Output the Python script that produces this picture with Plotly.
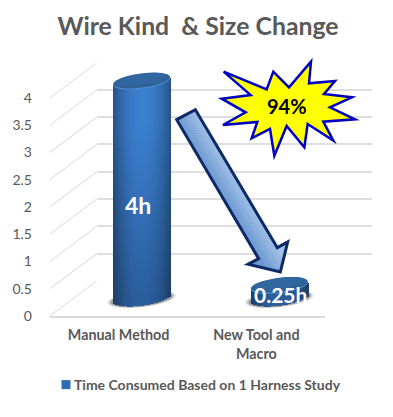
import math
import plotly.graph_objects as go

# ---- data ----
categories = ["Manual Method", "New Tool and<br>Macro"]
values = [4, 0.25]
data_labels = ["4h", "0.25h"]
series_name = "Time Consumed Based on 1 Harness Study"
y_ticks = [0, 0.5, 1, 1.5, 2, 2.5, 3, 3.5, 4]
y_tick_text = ["0", "0.5", "1", "1.5", "2", "2.5", "3", "3.5", "4"]
title_text = "Wire Kind\u00a0 & Size Change"
callout_text = "94%"
star_px = [(26,50),(155,103),(175,50),(222,97),(288,20),(282,85),(360,78),(327,117),(411,127),
           (345,157),(420,193),(325,200),(355,257),(278,207),(268,277),(215,213),(178,302),
           (165,222),(110,250),(127,201),(24,210),(92,172),(20,131),(107,120)]
arrow_px = [(20,44),(76,14),(322,428),(353,411),(331,501),(234,478),(266,461)]

W, H = 393, 417
GREY = "#595959"
FONT = "Lato"
UNIT_Y = 54.5      # px per value unit
UNIT_X = 137.5     # px per category
BAR_HALF = 28.5    # px
ELL_B = 7.5        # px
ELL_SHEAR = 3.5    # px
PAD = 0.5          # extra value range on the bar plane so nothing clips


def fx(x): return x / W
def fy(y): return 1 - y / H
def lerp(a, b, t): return a + (b - a) * t
def mix(c0, c1, t): return tuple(lerp(a, b, t) for a, b in zip(c0, c1))
def rgb(c): return "rgb(%d,%d,%d)" % tuple(round(v) for v in c)
def closed_path(pts): return "M" + "L".join(f"{x:.5f},{y:.5f}" for x, y in pts) + "Z"


# the three depth planes: back wall, front floor, bar plane
back = dict(x0=96.5, x1=372, y0=281, y1=62.5)
front = dict(x0=49.75, x1=325.25, y0=316, y1=98)
mid = dict(x0=72.75, x1=348.25, y0=298.5, y1=80.5)

fig = go.Figure()

# anchor the back-wall and front axes with the categories
fig.add_trace(go.Scatter(x=categories, y=values, xaxis="x", yaxis="y", mode="none",
                         showlegend=False, hoverinfo="skip"))
fig.add_trace(go.Scatter(x=categories, y=values, xaxis="x2", yaxis="y2", mode="none",
                         showlegend=False, hoverinfo="skip"))

# core bars (carry the legend entry)
fig.add_trace(go.Bar(x=categories, y=values, width=0.3, name=series_name, xaxis="x3", yaxis="y3",
                     marker=dict(color="#2e6cb2", line=dict(width=0)), hoverinfo="skip"))

# cylinder surface: cells following each bar's value
CTOP_MID, CTOP_EDGE = (60, 127, 207), (38, 82, 134)
CBOT_MID, CBOT_EDGE = (42, 94, 158), (28, 60, 100)
NCOL = 30
for cat, val in zip(categories, values):
    xs, ys, bases, widths, offs, cols = [], [], [], [], [], []
    nrow = max(3, int(val * 14))
    for j in range(NCOL):
        u0 = -1 + 2 * j / NCOL
        u1 = -1 + 2 * (j + 1) / NCOL
        u = (u0 + u1) / 2
        lower = (ELL_SHEAR * u - ELL_B * math.sqrt(max(0, 1 - u * u))) / UNIT_Y
        t = 1 - abs(u) ** 2.2
        for k in range(nrow):
            b = lower + val * k / nrow
            h = val / nrow + 0.01
            vt = min(1, max(0, (b + h / 2) / 4 * 1.25))
            xs.append(cat)
            bases.append(b)
            ys.append(h)
            offs.append(u0 * BAR_HALF / UNIT_X)
            widths.append((u1 - u0) * BAR_HALF / UNIT_X + 0.003)
            cols.append(rgb(mix(mix(CBOT_EDGE, CTOP_EDGE, vt), mix(CBOT_MID, CTOP_MID, vt), t)))
    fig.add_trace(go.Bar(x=xs, y=ys, base=bases, width=widths, offset=offs, xaxis="x3", yaxis="y3",
                         marker=dict(color=cols, line=dict(width=0)), showlegend=False, hoverinfo="skip"))

shapes = []

# floor/wall diagonals
for v in y_ticks:
    shapes.append(dict(type="line", xref="paper", yref="paper", layer="below",
                       x0=fx(front["x0"]), y0=fy(front["y0"] - v * UNIT_Y),
                       x1=fx(back["x0"]), y1=fy(back["y0"] - v * UNIT_Y),
                       line=dict(color="#d9d9d9", width=1)))


def ellipse_path(i, level, scale_x=1.0, scale_y=1.0, dy=0.0, dx=0.0):
    pts = []
    for n in range(48):
        a = 2 * math.pi * n / 48
        px = (BAR_HALF * scale_x * math.cos(a) + dx) / UNIT_X
        py = (ELL_SHEAR * math.cos(a) + ELL_B * scale_y * math.sin(a) + dy) / UNIT_Y
        pts.append((i + px, level + py))
    return closed_path(pts)


for i, val in enumerate(values):
    # soft shadow under each cylinder
    for sx, sy, op in [(1.2, 1.1, 0.10), (1.14, 1.05, 0.18), (1.08, 1.0, 0.30)]:
        shapes.append(dict(type="path", xref="x3", yref="y3", layer="below",
                           path=ellipse_path(i, 0, sx, sy, dy=-0.5),
                           fillcolor=f"rgba(50,50,50,{op})", line=dict(width=0)))
    # top cap with a light rim
    shapes.append(dict(type="path", xref="x3", yref="y3", layer="above",
                       path=ellipse_path(i, val, 1.0, 1.0, dy=-0.8),
                       fillcolor="#4c8ad2", line=dict(width=0)))
    shapes.append(dict(type="path", xref="x3", yref="y3", layer="above",
                       path=ellipse_path(i, val, 0.99, 0.95),
                       fillcolor="#2f6299", line=dict(width=0)))
    shapes.append(dict(type="path", xref="x3", yref="y3", layer="above",
                       path=ellipse_path(i, val, 0.8, 0.72, dy=1),
                       fillcolor="rgba(50,108,168,0.55)", line=dict(width=0)))


# arrow: strips across the shaft for the gradient, then the outline
def to_page(p): return (170 + p[0] / 3, 105 + p[1] / 3)


arrow = [to_page(p) for p in arrow_px]
ax = (arrow[4][0] - (arrow[0][0] + arrow[1][0]) / 2, arrow[4][1] - (arrow[0][1] + arrow[1][1]) / 2)
al = math.hypot(*ax)
nrm = (-ax[1] / al, ax[0] / al)   # across the shaft


def across(p): return p[0] * nrm[0] + p[1] * nrm[1]


def clip(poly, s_min, s_max):
    def half(pts, keep, cross):
        out = []
        for a, b in zip(pts, pts[1:] + pts[:1]):
            ka, kb = keep(a), keep(b)
            if ka:
                out.append(a)
            if ka != kb:
                sa, sb = across(a), across(b)
                t = (cross - sa) / (sb - sa)
                out.append((a[0] + (b[0] - a[0]) * t, a[1] + (b[1] - a[1]) * t))
        return out
    res = half(poly, lambda p: across(p) >= s_min, s_min)
    return half(res, lambda p: across(p) <= s_max, s_max) if res else res


s_all = [across(p) for p in arrow]
s_lo, s_hi = min(s_all), max(s_all)
s_a, s_b = across(arrow[0]), across(arrow[1])
s_a, s_b = min(s_a, s_b), max(s_a, s_b)
NSTRIP = 26
for n in range(NSTRIP):
    a = lerp(s_lo, s_hi, n / NSTRIP)
    b = lerp(s_lo, s_hi, (n + 1) / NSTRIP) + 0.3
    piece = clip(arrow, a, b)
    if len(piece) < 3:
        continue
    t = min(1, max(0, ((a + b) / 2 - s_a) / (s_b - s_a)))
    color = rgb(mix((160, 193, 232), (106, 150, 208), t))
    shapes.append(dict(type="path", xref="paper", yref="paper", layer="above",
                       path=closed_path([(fx(x), fy(y)) for x, y in piece]),
                       fillcolor=color, line=dict(width=0)))
shapes.append(dict(type="path", xref="paper", yref="paper", layer="above",
                   path=closed_path([(fx(x), fy(y)) for x, y in arrow]),
                   fillcolor="rgba(0,0,0,0)", line=dict(color="#0e2a66", width=3)))

# star callout
star = [(215 + x / 3, 55 + y / 3) for x, y in star_px]
shapes.append(dict(type="path", xref="paper", yref="paper", layer="above",
                   path=closed_path([(fx(x), fy(y)) for x, y in star]),
                   fillcolor="#ffff00", line=dict(color="#0000c4", width=2.5)))

annotations = [
    dict(xref="paper", yref="paper", x=fx(287), y=fy(106), xanchor="center", yanchor="middle",
         text=f"<b>{callout_text}</b>", showarrow=False,
         font=dict(family=FONT, size=20, color="#000000")),
]
for i, (cat, val, lab) in enumerate(zip(categories, values, data_labels)):
    annotations.append(dict(xref="x3", yref="y3", x=cat, y=val / 2, text=f"<b>{lab}</b>", showarrow=False,
                            xanchor="center", yanchor="middle",
                            yshift=-15 if val > 1 else -3, xshift=-4 if val > 1 else 1,
                            font=dict(family=FONT, size=23 if val > 1 else 21, color="#ffffff")))


def axis_common(p): return dict(domain=[fx(p["x0"]), fx(p["x1"])], range=[-0.5, 1.5], type="category",
                                categoryorder="array", categoryarray=categories, fixedrange=True)


def yaxis_common(p, pad=0.0):
    return dict(domain=[fy(p["y0"] + pad * UNIT_Y), fy(p["y1"] - pad * UNIT_Y)],
                range=[-pad, 4 + pad], fixedrange=True)


fig.update_layout(
    width=W, height=H, autosize=False,
    margin=dict(l=0, r=0, t=0, b=0, autoexpand=False),
    paper_bgcolor="#ffffff", plot_bgcolor="rgba(0,0,0,0)",
    barmode="overlay", bargap=0,
    title=dict(text=f"<b>{title_text}</b>", x=198 / W, xanchor="center", y=fy(26), yanchor="middle",
               font=dict(family=FONT, size=24.8, color=GREY)),
    xaxis=dict(axis_common(back), anchor="y", visible=False),
    yaxis=dict(yaxis_common(back), anchor="x", showgrid=True, gridcolor="#dedede", gridwidth=1.5,
               zeroline=False, showline=False, showticklabels=False, ticks="",
               tickmode="array", tickvals=y_ticks),
    xaxis2=dict(axis_common(front), anchor="y2", showgrid=False, zeroline=False, showline=True,
                linecolor="#d9d9d9", linewidth=1.5, ticks="", tickangle=0, ticklabelstandoff=5,
                tickfont=dict(family=FONT, size=14.3, color=GREY, weight="bold")),
    yaxis2=dict(yaxis_common(front), anchor="x2", showgrid=False, zeroline=False, showline=False,
                tickmode="array", tickvals=y_ticks, ticktext=y_tick_text, ticks="outside", ticklen=14,
                tickcolor="rgba(0,0,0,0)", tickfont=dict(family=FONT, size=14, color=GREY)),
    xaxis3=dict(axis_common(mid), anchor="y3", visible=False),
    yaxis3=dict(yaxis_common(mid, PAD), anchor="x3", visible=False),
    showlegend=True,
    legend=dict(orientation="h", x=fx(34), xanchor="left", y=fy(385), yanchor="middle",
                bgcolor="rgba(0,0,0,0)", font=dict(family=FONT, size=14, color=GREY, weight="bold")),
    shapes=shapes, annotations=annotations,
)

post = """
document.body.style.margin='0';document.body.style.overflow='hidden';
document.querySelectorAll('.legendpoints').forEach(function(g){
  var t=g.getAttribute('transform')||'';
  g.setAttribute('transform',t+' translate(17,0) scale(0.75)');
});
"""
fig.write_html("out.html", config={"displayModeBar": False}, post_script=post)
